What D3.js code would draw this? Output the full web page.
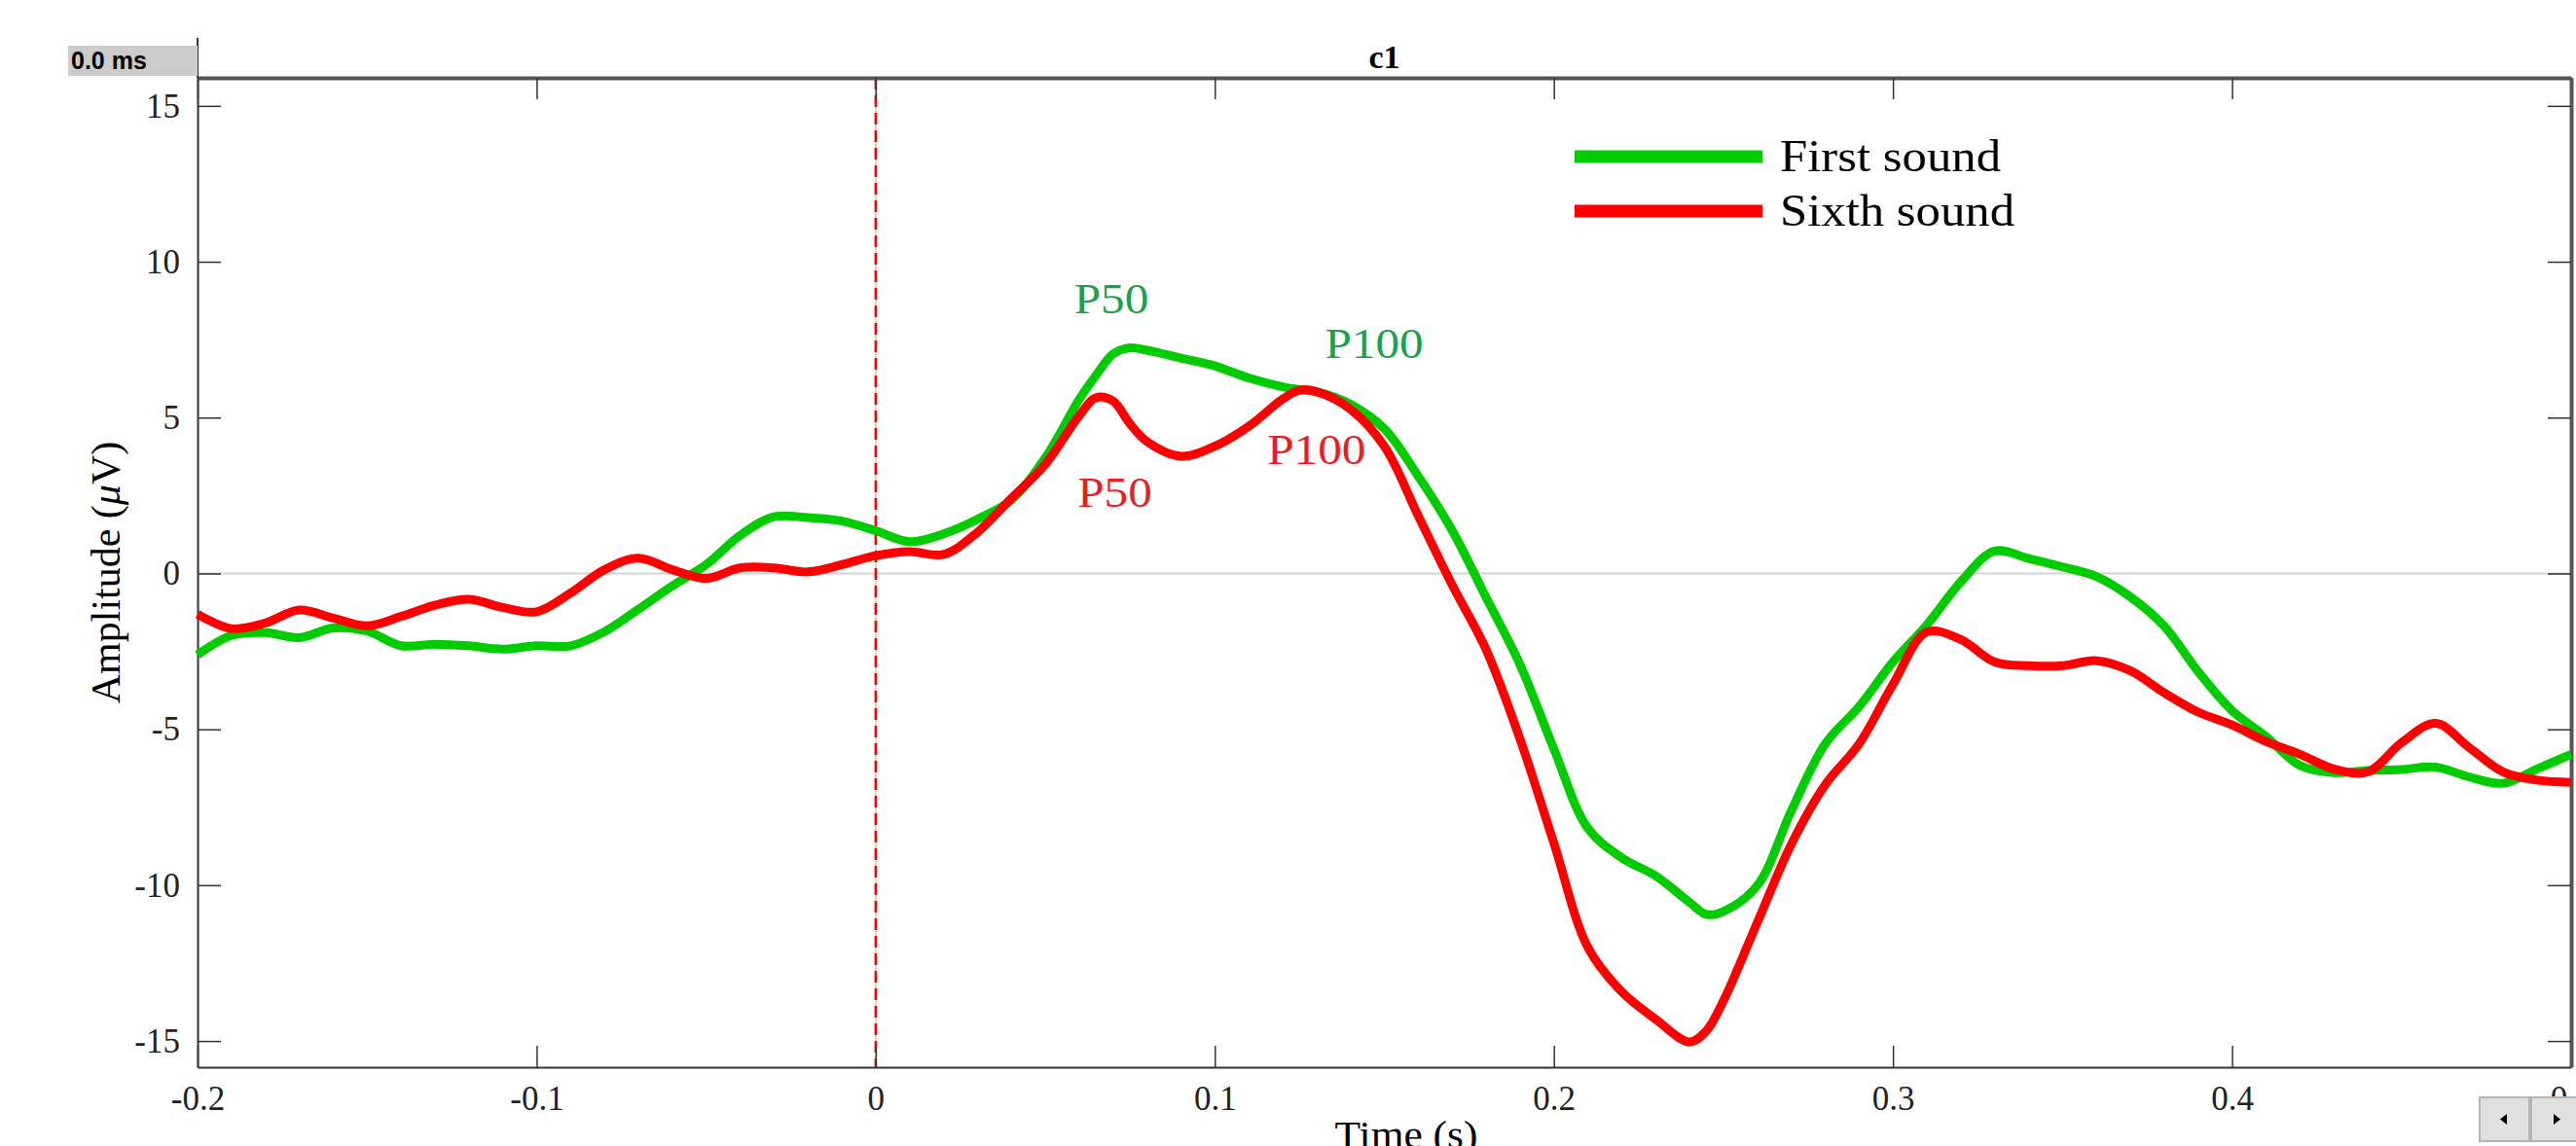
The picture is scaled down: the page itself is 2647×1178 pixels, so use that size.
<!DOCTYPE html>
<html>
<head>
<meta charset="utf-8">
<script src="https://cdn.jsdelivr.net/npm/d3@7"></script>
<style>
  body { margin: 0; background: #fff; }
  svg { display: block; }
  text { font-family: "Liberation Serif", "Times New Roman", serif; }
</style>
</head>
<body>
<svg width="2647" height="1178"></svg>
<script>

// time (s) of each sample
const times = [
  -0.20, -0.19, -0.18, -0.17, -0.16, -0.15, -0.14, -0.13, -0.12, -0.11,
  -0.10, -0.09, -0.08, -0.07, -0.06, -0.05, -0.04, -0.03, -0.02, -0.01,
   0.00,  0.01,  0.02,  0.03,  0.04,  0.05,  0.06, 0.065,  0.07, 0.075,
   0.08,  0.09,  0.10,  0.11,  0.12, 0.125,  0.13,  0.14,  0.15,  0.16,
   0.17,  0.18,  0.19,  0.20,  0.21,  0.22,  0.23,  0.24, 0.245,  0.25,
   0.26,  0.27,  0.28,  0.29,  0.30,  0.31,  0.32,  0.33,  0.34,  0.35,
   0.36,  0.37,  0.38,  0.39,  0.40,  0.41,  0.42,  0.43,  0.44,  0.45,
   0.46,  0.47,  0.48,  0.49,  0.50
];

// amplitude (uV), first sound
const firstSound = [
  -2.61, -1.99, -1.90, -2.06, -1.75, -1.85, -2.32, -2.27, -2.32, -2.43,
  -2.32, -2.32, -1.87, -1.15, -0.40,  0.28,  1.22,  1.82,  1.79,  1.68,
   1.37,  1.02,  1.27,  1.74,  2.36,  3.71,  5.58,  6.36,  7.04,  7.24,
   7.16,  6.91,  6.66,  6.27,  5.99,  5.90,  5.83,  5.43,  4.64,  3.12,
   1.38, -0.77, -2.92, -5.63, -8.17, -9.12, -9.70, -10.55, -10.94, -10.84,
  -10.01, -7.62, -5.47, -4.27, -2.84, -1.65, -0.27,  0.72,  0.48,  0.21,
  -0.10, -0.75, -1.69, -3.15, -4.40, -5.23, -6.16, -6.39, -6.32, -6.29,
  -6.21, -6.53, -6.73, -6.27, -5.80
];

// amplitude (uV), sixth sound
const sixthSound = [
  -1.31, -1.77, -1.59, -1.17, -1.43, -1.68, -1.38, -1.02, -0.83, -1.09,
  -1.23, -0.63,  0.12,  0.49,  0.12, -0.16,  0.18,  0.18,  0.05,  0.28,
   0.57,  0.70,  0.61,  1.32,  2.41,  3.50,  5.06,  5.64,  5.53,  4.80,
   4.23,  3.76,  4.08,  4.72,  5.59,  5.88,  5.83,  5.27,  4.08,  1.85,
  -0.37, -2.44, -5.31, -8.65, -11.99, -13.42, -14.30, -15.03, -14.67, -13.71,
  -11.20, -8.69, -6.78, -5.47, -3.56, -1.88, -2.12, -2.84, -2.96, -2.96,
  -2.80, -3.12, -3.83, -4.45, -4.86, -5.39, -5.80, -6.27, -6.37, -5.43,
  -4.81, -5.59, -6.37, -6.63, -6.70
];

const xTicks = [-0.2, -0.1, 0, 0.1, 0.2, 0.3, 0.4, 0.5];
const xTickLabels = ["-0.2", "-0.1", "0", "0.1", "0.2", "0.3", "0.4", "0.5"];
const yTicks = [-15, -10, -5, 0, 5, 10, 15];
const yTickLabels = ["-15", "-10", "-5", "0", "5", "10", "15"];

const seriesNames = ["First sound", "Sixth sound"];
const seriesColors = ["#00cc00", "#ff0000"];

// peak labels: [text, time, amplitude, colour]
const peakLabels = [
  ["P50", 0.0695, 8.35, "#1ca04a"],
  ["P100", 0.147, 6.9, "#1ca04a"],
  ["P50", 0.0705, 2.15, "#e81e25"],
  ["P100", 0.13, 3.5, "#e81e25"]
];

function drawChart() {
    var svg = d3.select("svg");

    var plotLeft = 203, plotRight = 2642, plotTop = 80, plotBottom = 1097;

    var x = d3.scaleLinear().domain([-0.2, 0.5]).range([plotLeft, plotRight]);
    var y = d3.scaleLinear().domain([-15.84, 15.9]).range([plotBottom, plotTop]);

    // text that is a bit wider than the font, like the reference
    function wideText(parent, px, py, scaleX) {
        return parent.append("g")
            .attr("transform", "translate(" + px + "," + py + ") scale(" + scaleX + ",1)")
            .append("text");
    }

    // zero line and stimulus onset
    svg.append("line")
        .attr("x1", plotLeft).attr("x2", plotRight)
        .attr("y1", y(0)).attr("y2", y(0))
        .attr("stroke", "#d4d4d4").attr("stroke-width", 2);

    svg.append("line")
        .attr("x1", x(0)).attr("x2", x(0))
        .attr("y1", plotTop).attr("y2", plotBottom)
        .attr("stroke", "#d4d4d4").attr("stroke-width", 2);

    svg.append("line")
        .attr("x1", x(0)).attr("x2", x(0))
        .attr("y1", plotTop).attr("y2", plotBottom)
        .attr("stroke", "#ff0000").attr("stroke-width", 2.5)
        .attr("stroke-dasharray", "12,6");

    // axes (ticks point inward)
    function styleAxis(g) {
        g.select(".domain").attr("stroke", "#333").attr("stroke-width", 2);
        g.selectAll(".tick line").attr("stroke", "#333").attr("stroke-width", 1.5);
        g.selectAll("text")
            .attr("fill", "#222")
            .style("font-family", "'Liberation Serif', serif")
            .style("font-size", "35px");
    }

    svg.append("g")
        .attr("transform", "translate(0," + plotBottom + ")")
        .call(d3.axisBottom(x).tickValues(xTicks)
            .tickFormat((d, i) => xTickLabels[i])
            .tickSizeInner(-22).tickSizeOuter(0))
        .call(styleAxis)
        .call(g => g.selectAll("text").attr("y", 44).attr("dy", null));

    svg.append("g")
        .attr("transform", "translate(0," + plotTop + ")")
        .call(d3.axisTop(x).tickValues(xTicks).tickFormat("")
            .tickSizeInner(-22).tickSizeOuter(0))
        .call(styleAxis)
        .call(g => g.select(".domain").attr("stroke", "#555").attr("stroke-width", 4));

    svg.append("g")
        .attr("transform", "translate(" + plotLeft + ",0)")
        .call(d3.axisLeft(y).tickValues(yTicks)
            .tickFormat((d, i) => yTickLabels[i])
            .tickSizeInner(-24).tickSizeOuter(0).tickPadding(18))
        .call(styleAxis);

    svg.append("g")
        .attr("transform", "translate(" + plotRight + ",0)")
        .call(d3.axisRight(y).tickValues(yTicks).tickFormat("")
            .tickSizeInner(-24).tickSizeOuter(0))
        .call(styleAxis)
        .call(g => g.select(".domain").attr("stroke", "#555").attr("stroke-width", 4));

    // little line above the left axis, next to the time box
    svg.append("line")
        .attr("x1", plotLeft).attr("x2", plotLeft)
        .attr("y1", 39).attr("y2", plotTop)
        .attr("stroke", "#333").attr("stroke-width", 2);

    // time box
    svg.append("rect")
        .attr("x", 70).attr("y", 47).attr("width", plotLeft - 70).attr("height", 31)
        .attr("fill", "#cccccc");
    svg.append("text")
        .attr("x", 73).attr("y", 71)
        .style("font-family", "'Liberation Sans', Arial, sans-serif")
        .style("font-weight", "bold").style("font-size", "25px")
        .text("0.0 ms");

    // title
    svg.append("text")
        .attr("x", (plotLeft + plotRight) / 2).attr("y", 70)
        .attr("text-anchor", "middle")
        .style("font-weight", "bold").style("font-size", "34px")
        .text("c1");

    // axis labels
    svg.append("text")
        .attr("transform", "translate(123," + (plotTop + plotBottom) / 2 + ") rotate(-90)")
        .attr("text-anchor", "middle")
        .style("font-size", "42px")
        .html("Amplitude (<tspan font-style='italic'>μ</tspan>V)");

    wideText(svg, 1445, 1180, 1.06)
        .attr("text-anchor", "middle")
        .style("font-size", "41px")
        .text("Time (s)");

    // waveforms
    var line = d3.line()
        .x((d, i) => x(times[i]))
        .y(d => y(d))
        .curve(d3.curveCatmullRom.alpha(0.5));

    [firstSound, sixthSound].forEach((vals, k) => {
        svg.append("path")
            .datum(vals)
            .attr("fill", "none")
            .attr("stroke", seriesColors[k])
            .attr("stroke-width", 9)
            .attr("stroke-linejoin", "round")
            .attr("d", line);
    });

    // peak labels
    peakLabels.forEach(d => {
        wideText(svg, x(d[1]), y(d[2]), 1.12)
            .attr("text-anchor", "middle")
            .attr("fill", d[3])
            .style("font-size", "44px")
            .text(d[0]);
    });

    // legend
    var legend = svg.append("g").attr("transform", "translate(1618,161)");
    seriesNames.forEach((name, k) => {
        var row = legend.append("g").attr("transform", "translate(0," + k * 56 + ")");
        row.append("line")
            .attr("x1", 0).attr("x2", 193)
            .attr("stroke", seriesColors[k]).attr("stroke-width", 13);
        wideText(row, 211, 15, 1.08)
            .style("font-size", "47px")
            .text(name);
    });

    // scroll buttons, bottom right
    var buttons = svg.append("g").attr("transform", "translate(2548,1128)");
    [0, 1].forEach(k => {
        var b = buttons.append("g").attr("transform", "translate(" + k * 53 + ",0)");
        b.append("rect")
            .attr("width", 51).attr("height", 45)
            .attr("fill", "#e1e1e1").attr("stroke", "#b5b5b5").attr("stroke-width", 2);
        b.append("path")
            .attr("d", k === 0 ? "M28,17 L21,22.5 L28,28 Z" : "M23,17 L30,22.5 L23,28 Z")
            .attr("fill", "#000");
    });
}

drawChart();

</script>
</body>
</html>
